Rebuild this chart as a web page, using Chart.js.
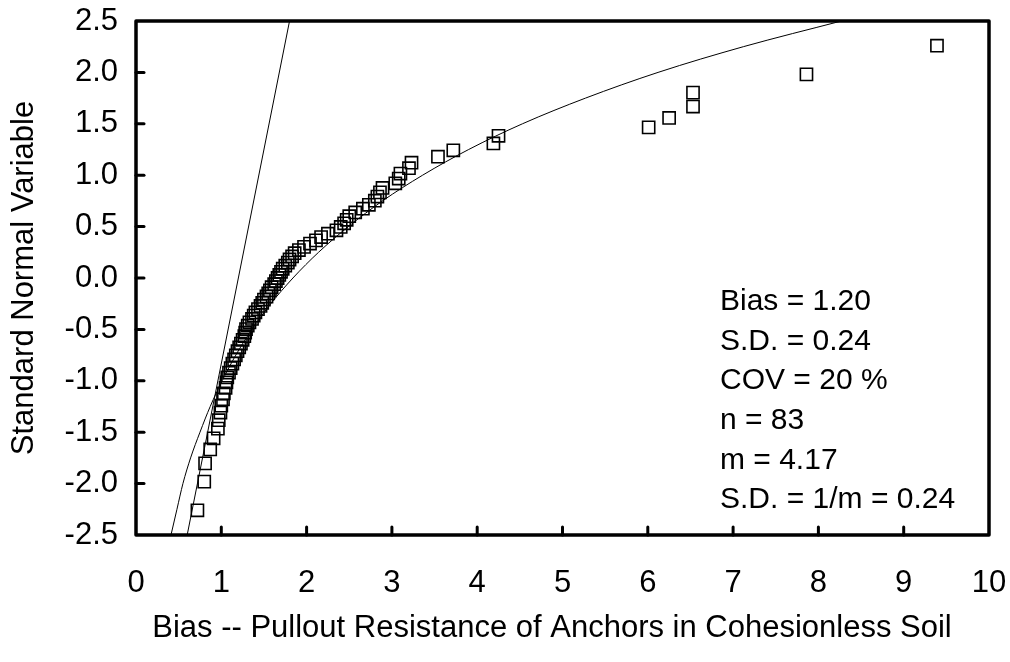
<!DOCTYPE html>
<html><head><meta charset="utf-8">
<script src="https://cdn.jsdelivr.net/npm/chart.js@4/dist/chart.umd.min.js"></script>
<style>html,body{margin:0;padding:0;background:#fff}#wrap{width:1010px;height:662px}</style>
</head><body><div id="wrap"><canvas id="c" width="1010" height="662"></canvas></div>
<script>
// Sorted bias values (x)
const biasValues = [
  0.72, 0.80, 0.81, 0.87, 0.91, 0.96, 0.97, 0.99, 1.00, 1.02,
  1.03, 1.05, 1.06, 1.07, 1.09, 1.11, 1.13, 1.15, 1.17, 1.19,
  1.21, 1.23, 1.25, 1.27, 1.28, 1.29, 1.31, 1.33, 1.36, 1.38,
  1.40, 1.43, 1.46, 1.48, 1.50, 1.53, 1.55, 1.57, 1.59, 1.62,
  1.64, 1.66, 1.68, 1.70, 1.72, 1.75, 1.78, 1.80, 1.83, 1.86,
  1.91, 1.97, 2.04, 2.11, 2.17, 2.25, 2.35, 2.40, 2.44, 2.47,
  2.50, 2.57, 2.66, 2.73, 2.80, 2.83, 2.86, 2.89, 3.04, 3.08,
  3.10, 3.20, 3.23, 3.54, 3.72, 4.19, 4.25, 6.01, 6.25, 6.53,
  6.53, 7.86, 9.39
];
// Standard normal variable (y) of each point
const normalVariable = [
  -2.260, -1.981, -1.803, -1.668, -1.559, -1.465, -1.383, -1.309, -1.242, -1.180,
  -1.122, -1.068, -1.016, -0.967, -0.921, -0.876, -0.833, -0.792, -0.752, -0.712,
  -0.674, -0.638, -0.601, -0.566, -0.532, -0.497, -0.464, -0.431, -0.398, -0.366,
  -0.335, -0.303, -0.272, -0.241, -0.210, -0.180, -0.150, -0.120, -0.090, -0.060,
  -0.030, 0.000, 0.030, 0.060, 0.090, 0.120, 0.150, 0.180, 0.210, 0.241,
  0.272, 0.303, 0.335, 0.366, 0.398, 0.431, 0.464, 0.497, 0.532, 0.566,
  0.601, 0.638, 0.674, 0.712, 0.752, 0.792, 0.833, 0.876, 0.921, 0.967,
  1.016, 1.068, 1.122, 1.180, 1.242, 1.309, 1.383, 1.465, 1.557, 1.668,
  1.803, 1.981, 2.260
];
// Straight (normal) fitted line, end points
const normalFitX = [0.60, 1.80];
const normalFitY = [-2.5, 2.5];
// Curved fitted line, points read along it
const curveX = [0.41, 0.48, 0.55, 0.64, 0.75, 0.87, 1.01, 1.17, 1.36, 1.58, 1.84,
                2.14, 2.49, 2.89, 3.36, 3.90, 4.53, 5.27, 6.12, 7.12, 8.27];
const curveY = [-2.5, -2.25, -2.0, -1.75, -1.5, -1.25, -1.0, -0.75, -0.5, -0.25, 0.0,
                0.25, 0.5, 0.75, 1.0, 1.25, 1.5, 1.75, 2.0, 2.25, 2.5];
const xTickValues = [0, 1, 2, 3, 4, 5, 6, 7, 8, 9, 10];
const yTickValues = [-2.5, -2.0, -1.5, -1.0, -0.5, 0.0, 0.5, 1.0, 1.5, 2.0, 2.5];
const annotationLines = ["Bias = 1.20", "S.D. = 0.24", "COV = 20 %", "n = 83", "m = 4.17", "S.D. = 1/m = 0.24"];
const xTitle = "Bias -- Pullout Resistance of Anchors in Cohesionless Soil";
const yTitle = "Standard Normal Variable";

const FONT = "'Liberation Sans', Arial, Helvetica, sans-serif";
const FS = 31;

const framePlugin = {
  id: 'frame',
  afterDatasetsDraw(chart) {
    const {ctx, chartArea: {left, right, top, bottom}, scales: {x, y}} = chart;
    ctx.save();
    ctx.strokeStyle = '#000';
    ctx.lineCap = 'round';
    ctx.lineWidth = 3;
    xTickValues.forEach(v => {
      if (v <= x.min || v >= x.max) return;
      const px = x.getPixelForValue(v);
      ctx.beginPath(); ctx.moveTo(px, bottom); ctx.lineTo(px, bottom - 8); ctx.stroke();
    });
    yTickValues.forEach(v => {
      if (v <= y.min || v >= y.max) return;
      const py = y.getPixelForValue(v);
      ctx.beginPath(); ctx.moveTo(left, py); ctx.lineTo(left + 8, py); ctx.stroke();
    });
    ctx.lineCap = 'butt';
    ctx.lineJoin = 'round';
    ctx.lineWidth = 3.5;
    ctx.strokeRect(left, top, right - left, bottom - top);
    ctx.fillStyle = '#000';
    // x axis title
    ctx.font = FS + "px " + FONT;
    ctx.textAlign = 'center';
    ctx.textBaseline = 'middle';
    ctx.fillText(xTitle, 552, 628);
    // statistics text
    ctx.font = "30px " + FONT;
    ctx.textAlign = 'left';
    annotationLines.forEach((t, i) => {
      ctx.fillText(t, 720, 302 + i * 39.6);
    });
    ctx.restore();
  }
};

new Chart(document.getElementById('c'), {
  type: 'scatter',
  data: {
    datasets: [
      {
        label: 'normal fit',
        data: normalFitX.map((v, i) => ({x: v, y: normalFitY[i]})),
        showLine: true, borderColor: '#000', borderWidth: 1, pointRadius: 0, fill: false
      },
      {
        label: 'curve fit',
        data: curveX.map((v, i) => ({x: v, y: curveY[i]})),
        showLine: true, borderColor: '#000', borderWidth: 1, pointRadius: 0, fill: false,
        cubicInterpolationMode: 'monotone'
      },
      {
        label: 'data',
        data: biasValues.map((v, i) => ({x: v, y: normalVariable[i]})),
        showLine: false, pointStyle: 'rect', pointRadius: 8.6, borderColor: '#000',
        borderWidth: 1.6, backgroundColor: 'rgba(0,0,0,0)'
      }
    ]
  },
  options: {
    responsive: false,
    devicePixelRatio: 1,
    animation: false,
    events: [],
    layout: {padding: {top: 21, right: 21, left: 0, bottom: 0}},
    plugins: {legend: {display: false}, tooltip: {enabled: false}},
    scales: {
      x: {
        type: 'linear', min: 0, max: 10,
        afterFit: s => { s.height = 127; s.paddingLeft = 0; s.paddingRight = 0; },
        afterBuildTicks: s => { s.ticks = xTickValues.map(v => ({value: v})); },
        grid: {display: false, drawTicks: false},
        border: {display: false},
        ticks: {color: '#000', font: {family: FONT, size: FS}, padding: 30, maxRotation: 0,
                callback: v => String(v)},
        title: {display: false, text: xTitle}
      },
      y: {
        type: 'linear', min: -2.5, max: 2.5,
        afterFit: s => { s.width = 136; s.paddingTop = 0; s.paddingBottom = 0; },
        afterBuildTicks: s => { s.ticks = yTickValues.map(v => ({value: v})); },
        grid: {display: false, drawTicks: false},
        border: {display: false},
        ticks: {color: '#000', font: {family: FONT, size: FS}, padding: 18,
                callback: v => Number(v).toFixed(1)},
        title: {display: true, text: yTitle, color: '#000', font: {family: FONT, size: FS},
                padding: {top: 6}}
      }
    }
  },
  plugins: [framePlugin]
});
</script>
</body></html>
